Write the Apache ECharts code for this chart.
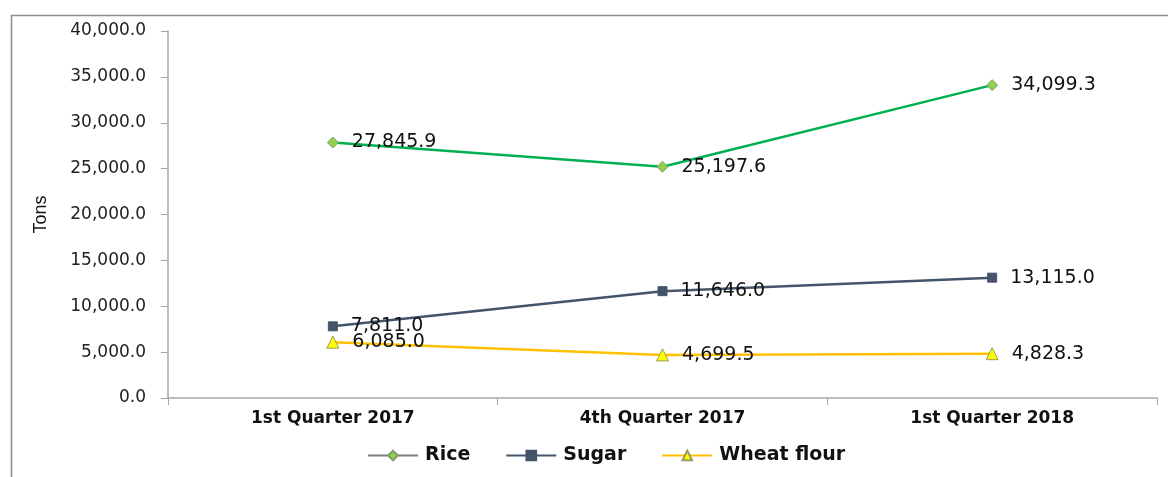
<!DOCTYPE html>
<html>
	<head>
		<meta charset="UTF-8">
		<title></title>
		<script src="https://cdn.jsdelivr.net/npm/echarts@6/dist/echarts.min.js" type="text/javascript" charset="utf-8"></script>
	</head>
	<body style="margin:0;">
		<div id="chart" style="height: 477px;width: 1168px;"></div>
		<script type="text/javascript">
			var categories = ['1st Quarter 2017', '4th Quarter 2017', '1st Quarter 2018'];
			var rice = [27845.9, 25197.6, 34099.3];
			var sugar = [7811.0, 11646.0, 13115.0];
			var wheatFlour = [6085.0, 4699.5, 4828.3];
			var yTicks = [0, 5000, 10000, 15000, 20000, 25000, 30000, 35000, 40000];

			function fmt(v) {
				return Number(v).toLocaleString('en-US', {minimumFractionDigits: 1, maximumFractionDigits: 1});
			}

			var font = '"DejaVu Sans", "Liberation Sans", Arial, sans-serif';
			var labelStyle = {
				show: true,
				position: 'right',
				distance: 13,
				fontFamily: font,
				fontSize: 19,
				color: '#111',
				formatter: function (p) { return fmt(p.value); }
			};

			var chart = echarts.init(document.getElementById('chart'));
			var option = {
				animation: false,
				graphic: [{
					type: 'rect',
					shape: {x: 11.5, y: 15.5, width: 1170, height: 480},
					style: {fill: 'none', stroke: '#8c8c8c', lineWidth: 1.5},
					silent: true
				}],
				grid: {left: 168, right: 11, top: 31, bottom: 79},
				legend: {
					bottom: 7,
					left: 362,
					itemWidth: 50,
					itemHeight: 12,
					itemGap: 35,
					textStyle: {fontFamily: font, fontSize: 19, fontWeight: 'bold', color: '#111', padding: [0, 0, 0, 2]},
					data: [
						{name: 'Rice', lineStyle: {color: '#7f7f7f'}},
						{name: 'Sugar'},
						{name: 'Wheat flour'}
					]
				},
				xAxis: {
					type: 'category',
					data: categories,
					axisLine: {lineStyle: {color: '#a6a6a6', width: 1.5}},
					axisTick: {show: true, length: 7, lineStyle: {color: '#a6a6a6'}},
					axisLabel: {fontFamily: font, fontSize: 17, fontWeight: 'bold', color: '#111', margin: 12},
					splitLine: {show: false}
				},
				yAxis: {
					type: 'value',
					min: yTicks[0],
					max: yTicks[yTicks.length - 1],
					interval: 5000,
					name: 'Tons',
					nameLocation: 'middle',
					nameGap: 118,
					nameRotate: 90,
					nameTextStyle: {fontFamily: '"Liberation Sans Narrow", "Liberation Sans", Arial, sans-serif', fontSize: 18, color: '#111'},
					axisLine: {show: true, lineStyle: {color: '#a6a6a6', width: 1.5}},
					axisTick: {show: true, length: 7, inside: false, lineStyle: {color: '#a6a6a6'}},
					axisLabel: {
						fontFamily: font, fontSize: 17, color: '#222', margin: 22,
						formatter: function (v) { return fmt(v); }
					},
					splitLine: {show: false}
				},
				series: [
					{
						name: 'Rice',
						type: 'line',
						data: rice,
						symbol: 'diamond',
						symbolSize: 11,
						lineStyle: {color: '#00b050', width: 2.5},
						itemStyle: {color: '#92d050', borderColor: '#7f9f6f', borderWidth: 1},
						label: labelStyle
					},
					{
						name: 'Sugar',
						type: 'line',
						data: sugar,
						symbol: 'rect',
						symbolSize: 9,
						lineStyle: {color: '#44546a', width: 2.5},
						itemStyle: {color: '#44546a', borderColor: '#44546a', borderWidth: 1},
						label: labelStyle
					},
					{
						name: 'Wheat flour',
						type: 'line',
						data: wheatFlour,
						symbol: 'triangle',
						symbolSize: 12,
						lineStyle: {color: '#ffc000', width: 2.5},
						itemStyle: {color: '#ffff00', borderColor: '#9a9a60', borderWidth: 1},
						label: labelStyle
					}
				]
			};
			chart.setOption(option, true);
		</script>
	</body>
</html>
